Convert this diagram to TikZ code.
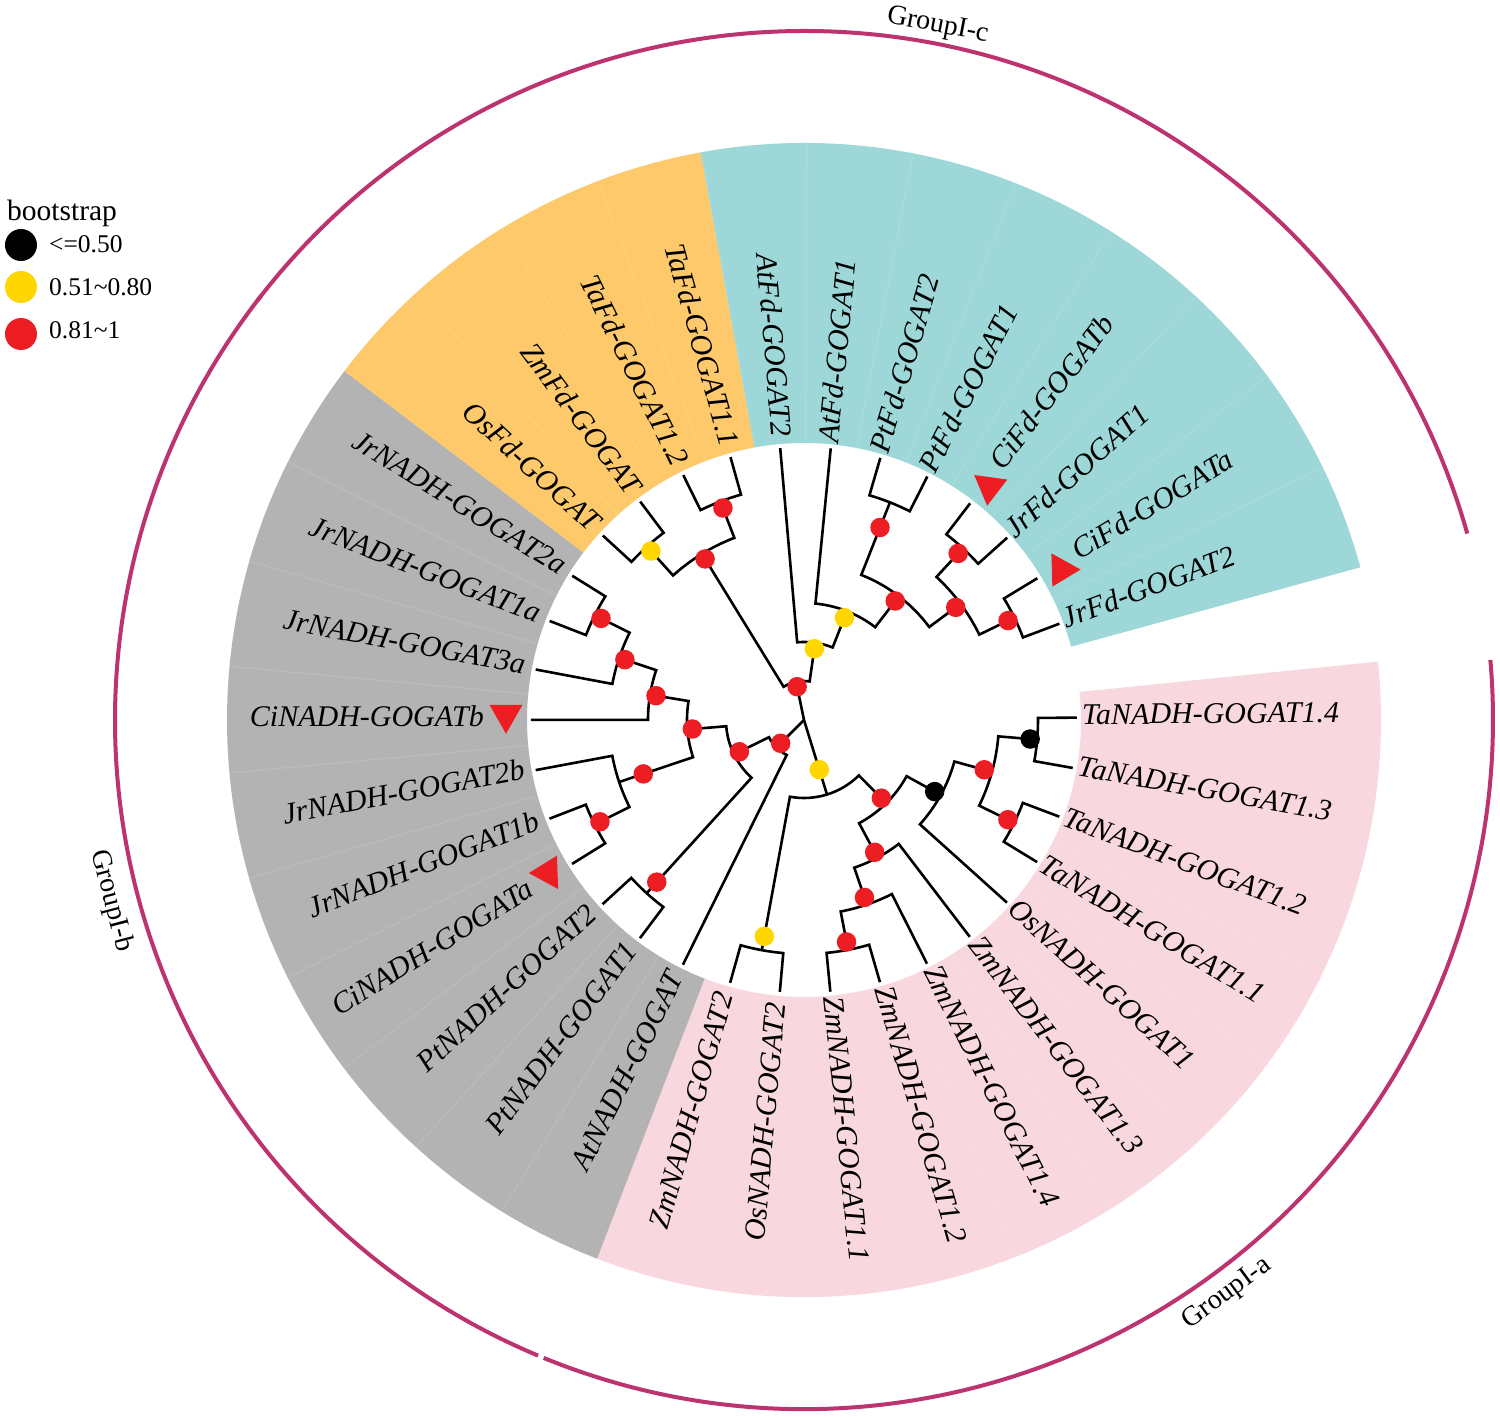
\documentclass[tikz,border=0pt]{standalone}
\usepackage{fontspec}
\setmainfont{Liberation Serif}
\definecolor{cteal}{RGB}{157,215,215}
\definecolor{corange}{RGB}{253,201,107}
\definecolor{cgray}{RGB}{179,179,179}
\definecolor{cpink}{RGB}{249,215,223}
\definecolor{cmag}{RGB}{188,51,112}
\definecolor{cred}{RGB}{236,30,36}
\definecolor{cyellow}{RGB}{255,214,0}
\newcommand\clade[5]{\draw[branch] (#1:#2) -- (#1:#3) arc[start angle=#1, end angle=#4, radius=#3] -- (#4:#5);}
\newcommand\sector[3]{\fill[#3] (#1:277) arc[start angle=#1,end angle=#2,radius=277] -- (#2:577) arc[start angle=#2,end angle=#1,radius=577] -- cycle;}
\newcommand\seam[1]{\draw[seamline] (#1:278) -- (#1:576);}
\newcommand\labR[3]{\node[lab,anchor=west,rotate=#1] (#3) at (#1:278) {#2};}
\newcommand\labL[3]{\node[lab,anchor=east,rotate=#1+180] (#3) at (#1:284) {#2};}
\newcommand\citri[1]{\begin{scope}[shift={(#1:298)},rotate=#1]\fill[cred] (0,14) -- (-16.5,-15) -- (16.5,-15) -- cycle;\end{scope}}
\newcommand\labRC[3]{\node[lab,anchor=west,rotate=#1] (#3) at (#1:318) {#2};\citri{#1}}
\newcommand\labLC[3]{\node[lab,anchor=east,rotate=#1+180] (#3) at (#1:320) {#2};\citri{#1}}
\newcommand\bdot[3]{\node[dotc,fill=#3] (#1) at (#2) {};}
\begin{document}
\begin{tikzpicture}[x=1pt,y=1pt,
  branch/.style={line width=2.6pt, line join=miter, black},
  seamline/.style={white, opacity=0.13, line width=1pt},
  lab/.style={font=\fontsize{30}{30}\selectfont\itshape, inner sep=0pt, text height=20.5pt, text depth=6.5pt},
  dotc/.style={circle, inner sep=0pt, minimum size=19.5pt},
  grp/.style={font=\fontsize{28}{28}\selectfont, inner sep=0pt},
  grparc/.style={cmag, line width=4pt},
  legtxt/.style={font=\fontsize{25.5}{26}\selectfont, inner sep=0pt, anchor=base west}]
\useasboundingbox (-804,-697) rectangle (696,720);
\fill[white] (-804,-697) rectangle (696,720);
% coloured sectors
\sector{5.81}{-111.01}{cpink}
\sector{-111.01}{-217.21}{cgray}
\sector{-217.21}{-259.69}{corange}
\sector{-259.69}{-344.65}{cteal}
\foreach \k in {1,...,10,12,13,...,20,22,23,24,26,27,...,32}{\seam{0.5-10.62*\k+5.31}}
% group arcs
\draw[grparc] (142.5:689) arc[start angle=142.5, end angle=15.7, radius=689];
\draw[grparc] (142.0:689) arc[start angle=142.0, end angle=247.3, radius=689];
\draw[grparc] (247.8:689) arc[start angle=247.8, end angle=365, radius=689];
\node[grp, rotate=-10.9] (gc) at (79.1:707) {GroupI-c};
\node[grp, rotate=36.4] (ga) at (-53.6:713) {GroupI-a};
\node[grp, rotate=-75.35] (gb) at (194.65:716) {GroupI-b};
% root
\coordinate (root) at (0,0);
\draw[branch] (root) -- (-258.36:39);
\draw[branch] (root) -- (-135.07:39);
\draw[branch] (root) -- (-72.845:78);
% Fd clade
\clade{-238.45}{195}{39}{-278.275}{78}
\clade{-227.83}{234}{195}{-249.07}{234}
\clade{-222.52}{273}{234}{-233.14}{273}
\clade{-243.76}{273}{234}{-254.38}{273}
\clade{-265.00}{273}{78}{-291.55}{117}
\clade{-275.62}{273}{117}{-307.48}{156}
\clade{-291.55}{234}{156}{-323.41}{195}
\clade{-286.24}{273}{234}{-296.86}{273}
\clade{-312.79}{234}{195}{-334.03}{234}
\clade{-307.48}{273}{234}{-318.10}{273}
\clade{-328.72}{273}{234}{-339.34}{273}
% NADH dicots
\clade{-116.32}{273}{39}{-153.82}{78}
\clade{-132.25}{234}{78}{-175.39}{117}
\clade{-126.94}{273}{234}{-137.56}{273}
\clade{-161.455}{195}{117}{-189.33}{156}
\clade{-153.49}{234}{195}{-169.42}{273}
\clade{-148.18}{273}{234}{-158.80}{273}
\clade{-180.04}{273}{156}{-198.625}{195}
\clade{-190.66}{273}{195}{-206.59}{234}
\clade{-201.28}{273}{234}{-211.90}{273}
% NADH monocots
\clade{-45.30}{117}{78}{-100.39}{234}
\clade{-95.08}{273}{234}{-105.70}{273}
\clade{-28.705}{156}{117}{-61.89}{156}
\clade{-15.43}{195}{156}{-41.98}{273}
\clade{-4.81}{234}{195}{-26.05}{234}
\clade{0.5}{273}{234}{-10.12}{273}
\clade{-20.74}{273}{234}{-31.36}{273}
\clade{-52.60}{273}{156}{-71.185}{195}
\clade{-63.22}{273}{195}{-79.15}{234}
\clade{-73.84}{273}{234}{-84.46}{273}
% bootstrap dots
\bdot{dF}{-258.36:34}{cred}
\bdot{dG}{-135.07:33}{cred}
\bdot{dQ}{-72.845:52}{cyellow}
\bdot{dT1}{-278.275:72}{cyellow}
\bdot{dT2}{-291.55:110}{cyellow}
\bdot{dT3}{-307.48:150}{cred}
\bdot{dT4}{-323.41:189}{cred}
\bdot{dT5}{-312.79:227}{cred}
\bdot{dT6}{-334.03:227}{cred}
\bdot{dP}{-291.55:207}{cred}
\bdot{dO}{-238.45:189}{cred}
\bdot{dTaFd}{-249.07:227}{cred}
\bdot{dOsZmFd}{-227.83:228}{cyellow}
\bdot{dG2}{-153.82:72}{cred}
\bdot{dG3}{-175.39:112}{cred}
\bdot{dG5}{-189.33:150}{cred}
\bdot{dG6}{-198.625:189}{cred}
\bdot{dPa}{-206.59:227}{cred}
\bdot{dG4}{-161.455:169.5}{cred}
\bdot{dPb}{-153.49:228}{cred}
\bdot{dPPt}{-132.25:219}{cred}
\bdot{dOsZm2}{-100.39:220}{cyellow}
\bdot{dN1}{-45.30:110}{cred}
\bdot{dN2}{-28.705:149}{black}
\bdot{dN3}{-15.43:187}{cred}
\bdot{dTa14}{-4.81:227}{black}
\bdot{dTa12}{-26.05:227}{cred}
\bdot{dN4}{-61.89:150}{cred}
\bdot{dN5}{-71.185:187.5}{cred}
\bdot{dN6}{-79.15:226}{cred}
% leaf labels
\labR{0.5}{TaNADH-GOGAT1.4}{l0}
\labR{-10.12}{TaNADH-GOGAT1.3}{l1}
\labR{-20.74}{TaNADH-GOGAT1.2}{l2}
\labR{-31.36}{TaNADH-GOGAT1.1}{l3}
\labR{-41.98}{OsNADH-GOGAT1}{l4}
\labR{-52.60}{ZmNADH-GOGAT1.3}{l5}
\labR{-63.22}{ZmNADH-GOGAT1.4}{l6}
\labR{-73.84}{ZmNADH-GOGAT1.2}{l7}
\labR{-84.46}{ZmNADH-GOGAT1.1}{l8}
\labL{-95.08}{OsNADH-GOGAT2}{l9}
\labL{-105.70}{ZmNADH-GOGAT2}{l10}
\labL{-116.32}{AtNADH-GOGAT}{l11}
\labL{-126.94}{PtNADH-GOGAT1}{l12}
\labL{-137.56}{PtNADH-GOGAT2}{l13}
\labLC{-148.18}{CiNADH-GOGATa}{l14}
\labL{-158.80}{JrNADH-GOGAT1b}{l15}
\labL{-169.42}{JrNADH-GOGAT2b}{l16}
\labLC{-180.04}{CiNADH-GOGATb}{l17}
\labL{-190.66}{JrNADH-GOGAT3a}{l18}
\labL{-201.28}{JrNADH-GOGAT1a}{l19}
\labL{-211.90}{JrNADH-GOGAT2a}{l20}
\labL{-222.52}{OsFd-GOGAT}{l21}
\labL{-233.14}{ZmFd-GOGAT}{l22}
\labL{-243.76}{TaFd-GOGAT1.2}{l23}
\labL{-254.38}{TaFd-GOGAT1.1}{l24}
\labL{-265.00}{AtFd-GOGAT2}{l25}
\labR{-275.62}{AtFd-GOGAT1}{l26}
\labR{-286.24}{PtFd-GOGAT2}{l27}
\labR{-296.86}{PtFd-GOGAT1}{l28}
\labRC{-307.48}{CiFd-GOGATb}{l29}
\labR{-318.10}{JrFd-GOGAT1}{l30}
\labRC{-328.72}{CiFd-GOGATa}{l31}
\labR{-339.34}{JrFd-GOGAT2}{l32}
% legend
\node[font=\fontsize{29.5}{30}\selectfont, inner sep=0pt, anchor=base west] (lgt) at (-797,499.5) {bootstrap};
\node[circle, fill=black, minimum size=32pt, inner sep=0pt] (lg1) at (-783,475) {};
\node[circle, fill=cyellow, minimum size=32pt, inner sep=0pt] (lg2) at (-783,433) {};
\node[circle, fill=cred, minimum size=32pt, inner sep=0pt] (lg3) at (-783,386) {};
\node[legtxt] (lgt1) at (-755,467) {<=0.50};
\node[legtxt] (lgt2) at (-755,424) {0.51{\char"7E}0.80};
\node[legtxt] (lgt3) at (-755,381) {0.81{\char"7E}1};
\end{tikzpicture}
\end{document}
